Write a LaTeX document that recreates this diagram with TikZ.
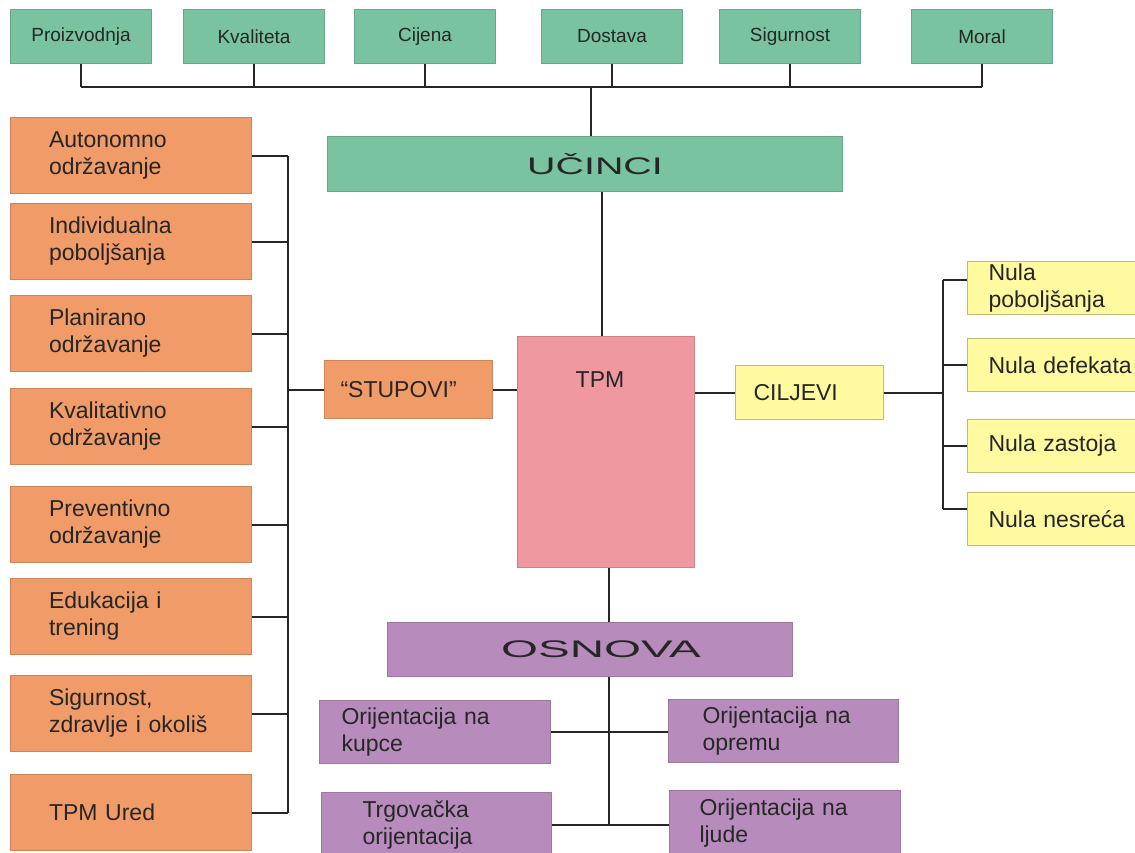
\documentclass[tikz,border=0pt]{standalone}
\usepackage{fontspec}
\setmainfont{Liberation Sans}
\usepackage{graphicx}
\definecolor{effgreen}{RGB}{122,195,160}
\definecolor{pillarorange}{RGB}{240,155,104}
\definecolor{tpmpink}{RGB}{239,152,160}
\definecolor{goalyellow}{RGB}{255,249,160}
\definecolor{basepurple}{RGB}{183,140,188}
\tikzset{
  boxbase/.style={anchor=north west, inner ysep=0pt, line width=.5pt, text=black!85, font=\fontsize{11.5}{13.5}\selectfont},
  effbox/.style={boxbase, fill=effgreen, draw=effgreen!85!black},
  pillarbox/.style={boxbase, fill=pillarorange, draw=pillarorange!85!black},
  tpmbox/.style={boxbase, fill=tpmpink, draw=tpmpink!85!black},
  goalbox/.style={boxbase, fill=goalyellow, draw=goalyellow!75!black},
  basebox/.style={boxbase, fill=basepurple, draw=basepurple!85!black},
  titletext/.style={font=\fontsize{12}{14}\selectfont},
  conn/.style={line width=1pt, draw=black!85},
}
\begin{document}
\begin{tikzpicture}[x=0.5pt,y=-0.5pt]
    \fill[white] (0,0) rectangle (1135,852);%
    \useasboundingbox (0,0) rectangle (1135,852);%
    % ucinci
    \foreach \n/\x/\t in {pro/10/Proizvodnja, kva/183/Kvaliteta, cij/354/Cijena, dos/541/Dostava, sig/719/Sigurnost, mor/911/Moral} {%
      \node[effbox, minimum width=70.5pt, minimum height=27pt, font=\fontsize{9.5}{11}\selectfont] at (\x,9) (\n) {\t};%
    };%
    \node[effbox, titletext, minimum width=257.5pt, minimum height=27.5pt] at (327,136) (ucin) {\hspace*{10pt}\scalebox{1.64}[1]{UČINCI}};%
    % stupovi
    \foreach \n/\y/\t in {auto/117/{Autonomno\\održavanje}, indi/203/{Individualna\\poboljšanja}, plan/295/{Planirano\\održavanje}, kval/388/{Kvalitativno\\održavanje}, prev/486/{Preventivno\\održavanje}, eduk/578/{Edukacija i\\trening}, szo/675/{Sigurnost,\\zdravlje i okoliš}, ured/774/{TPM Ured}} {%
      \node[pillarbox, minimum width=120.5pt, minimum height=38pt, text width=82pt, inner xsep=19pt, align=left] at (10,\y) (\n) {\t};%
    };%
    \node[pillarbox, minimum width=84pt, minimum height=29pt, text width=68pt, inner xsep=8pt, align=left] at (324,360) (stup) {“STUPOVI”};%
    % tpm
    \node[tpmbox, minimum width=88.5pt, minimum height=115.5pt, label={[anchor=center, xshift=-3pt, yshift=-22pt, text=black!85, font=\fontsize{11.5}{13.5}\selectfont]north:TPM}] at (517,336) (tpm) {};%
    % ciljevi
    \node[goalbox, minimum width=74pt, minimum height=27pt, text width=56pt, inner xsep=9pt, align=left] at (735,365) (cilj) {CILJEVI};%
    \foreach \n/\y/\t in {npob/261/{Nula\\poboljšanja}, ndef/338/{Nula defekata}, nzas/419/{Nula zastoja}, nnes/492/{Nula nesreća}} {%
      \node[goalbox, minimum width=90pt, minimum height=26.5pt, text width=75pt, inner xsep=10.5pt, align=left] at (967,\y) (\n) {\t};%
    };%
    % osnova
    \node[basebox, titletext, minimum width=202.5pt, minimum height=27pt] at (387,622) (osn) {\hspace*{11pt}\scalebox{1.98}[1]{OSNOVA}};%
    \node[basebox, minimum width=115.5pt, minimum height=31.5pt, text width=93.5pt, inner xsep=11pt, align=left] at (319,700) (kup) {Orijentacija na\\kupce};%
    \node[basebox, minimum width=115pt, minimum height=31.5pt, text width=81pt, inner xsep=17pt, align=left] at (668,699) (opr) {Orijentacija na\\opremu};%
    \node[basebox, minimum width=115pt, minimum height=32pt, text width=74pt, inner xsep=20.5pt, align=left] at (321,792) (trg) {Trgovačka\\orijentacija};%
    \node[basebox, minimum width=115.5pt, minimum height=33pt, text width=85.5pt, inner xsep=15pt, align=left] at (669,790) (lju) {Orijentacija na\\ljude};%
    % top bus
    \coordinate (bus) at (591,87);%
    \draw[conn] (pro.south |- bus) -- (mor.south |- bus);%
    \foreach \n in {pro,kva,cij,dos,sig,mor} {\draw[conn] (\n.south) -- (\n.south |- bus);};%
    \draw[conn] (bus) -- (bus |- ucin.north);%
    \draw[conn] ([xshift=-2pt]ucin.south -| tpm.north) -- ([xshift=-2pt]tpm.north);%
    % left spine
    \coordinate (lspine) at (288,154);%
    \draw[conn] (auto.east -| lspine) -- (ured.east -| lspine);%
    \foreach \n in {auto,indi,plan,kval,prev,eduk,szo,ured} {\draw[conn] (\n.east) -- (\n.east -| lspine);};%
    \draw[conn] (stup.west) -- (stup.west -| lspine);%
    \draw[conn] (stup.east) -- (stup.east -| tpm.west);%
    \draw[conn] (tpm.east |- cilj.west) -- (cilj.west);%
    % right spine
    \coordinate (rspine) at (943,279);%
    \draw[conn] (cilj.east) -- (cilj.east -| rspine);%
    \foreach \n/\s in {npob/4.25, ndef/0, nzas/0, nnes/5} {%
      \coordinate (\n-in) at ([yshift=\s pt]\n.west);%
      \draw[conn] (\n-in) -- (\n-in -| rspine);%
    };%
    \draw[conn] (npob-in -| rspine) -- (nnes-in -| rspine);%
    % bottom spine
    \coordinate (bspine) at (609,676);%
    \draw[conn] (tpm.south -| bspine) -- (osn.north -| bspine);%
    \draw[conn] (osn.south -| bspine) -- (trg.east -| bspine);%
    \draw[conn] (kup.east) -- (kup.east -| opr.west);%
    \draw[conn] (trg.east) -- (trg.east -| lju.west);%
\end{tikzpicture}
\end{document}
